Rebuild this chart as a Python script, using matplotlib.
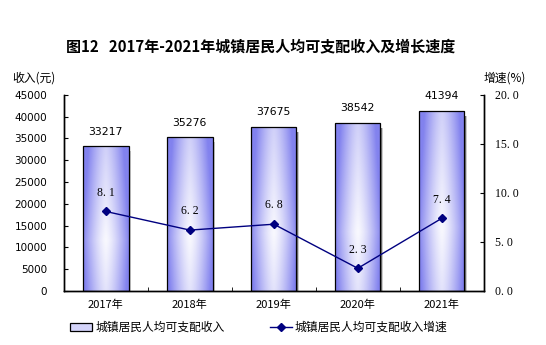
import matplotlib
matplotlib.use("Agg")
import matplotlib.pyplot as plt
import numpy as np
from matplotlib.ticker import FixedLocator, NullFormatter

plt.rcParams["font.family"] = ["Noto Sans CJK SC", "DejaVu Sans"]

years = ["2017年", "2018年", "2019年", "2020年", "2021年"]
income = [33217, 35276, 37675, 38542, 41394]
growth = [8.1, 6.2, 6.8, 2.3, 7.4]

title = "图12   2017年-2021年城镇居民人均可支配收入及增长速度"
bar_name = "城镇居民人均可支配收入"
line_name = "城镇居民人均可支配收入增速"

EDGE = np.array([130, 130, 238]) / 255.0
NAVY = "#000080"


def bar_gradient(nx=60, ny=120):
    # light in the lower middle, bluer towards the sides and the top
    xs = np.linspace(0, 1, nx)
    ys = np.linspace(0, 1, ny)
    X, Y = np.meshgrid(xs, ys)
    h = np.abs(X - 0.5) * 2
    t = 0.05 + 0.9 * h ** 1.4 + 0.5 * np.abs(Y - 0.35)
    t = np.clip(t, 0, 1)[..., None]
    return (1 - t) * np.ones(3) + t * EDGE


def dotted(v):
    return f"{v:.1f}".replace(".", ". ")


fig = plt.figure(figsize=(5.46, 3.45), dpi=100)
ax = fig.add_axes([0.117, 0.157, 0.769, 0.568])
ax2 = ax.twinx()

x = np.arange(len(years))
width = 0.54
grad = bar_gradient()

bars = ax.bar(x, income, width=width, facecolor="none", edgecolor="black",
              linewidth=0.9, zorder=3)
for xi, val, b in zip(x, income, bars):
    # soft shadow along the right edge
    for k, a in enumerate([0.9, 0.55, 0.2]):
        ax.add_patch(plt.Rectangle((xi + width / 2 + k * 0.011, 0), 0.011, val - 1200,
                                   facecolor="black", alpha=a, linewidth=0, zorder=1))
    im = ax.imshow(grad, extent=(xi - width / 2, xi + width / 2, 0, val),
                   origin="lower", aspect="auto", zorder=2, interpolation="bilinear")
    im.set_clip_path(b)
    ax.text(xi, val + 2200, str(val), ha="center", va="bottom", fontsize=7.8,
            family="DejaVu Sans")

ax.set_xlim(-0.5, len(years) - 0.5)
ax.set_ylim(0, 45000)
ax.set_yticks(np.arange(0, 45001, 5000))
ax.tick_params(axis="y", direction="in", length=3, labelsize=7.5, pad=12)
for lab in ax.get_yticklabels():
    lab.set_family("DejaVu Sans")
ax.set_xticks(x)
ax.set_xticklabels(years, fontsize=8)
ax.tick_params(axis="x", length=0, pad=6)
ax.xaxis.set_minor_locator(FixedLocator(np.arange(-0.5, len(years), 1.0)))
ax.xaxis.set_minor_formatter(NullFormatter())
ax.tick_params(axis="x", which="minor", direction="in", length=3)

ax2.plot(x, growth, color=NAVY, linewidth=1.0, marker="D", markersize=4.5, zorder=5)
for xi, g in zip(x, growth):
    ax2.text(xi, g + 1.3, dotted(g), ha="center", va="bottom",
             fontsize=8.5, family="Liberation Serif")
ax2.set_ylim(0, 20)
ax2.set_yticks(np.arange(0, 20.1, 5))
ax2.set_yticklabels([dotted(v) for v in np.arange(0, 20.1, 5)])
ax2.tick_params(axis="y", direction="in", length=3, labelsize=8.5, pad=8)
for lab in ax2.get_yticklabels():
    lab.set_family("Liberation Serif")

for a in (ax, ax2):
    a.spines["top"].set_visible(False)
    for s in ("left", "right", "bottom"):
        a.spines[s].set_linewidth(1.0)

fig.text(0.477, 0.866, title, ha="center", va="center", fontsize=10.8, fontweight="bold")
fig.text(0.022, 0.775, "收入(元)", ha="left", va="center", fontsize=8.5)
fig.text(0.885, 0.775, "增速(%)", ha="left", va="center", fontsize=8.5)

# legend
lg_y = 0.052
fig.patches.append(plt.Rectangle((0.128, lg_y - 0.012), 0.04, 0.024, transform=fig.transFigure,
                                 facecolor="#d4d4fa", edgecolor="black", linewidth=0.9))
fig.text(0.175, lg_y, bar_name, ha="left", va="center", fontsize=8.5)
fig.add_artist(plt.Line2D([0.495, 0.535], [lg_y, lg_y], transform=fig.transFigure,
                          color=NAVY, linewidth=1.0))
fig.add_artist(plt.Line2D([0.515], [lg_y], transform=fig.transFigure, color=NAVY,
                          marker="D", markersize=4, linestyle="none"))
fig.text(0.54, lg_y, line_name, ha="left", va="center", fontsize=8.5)

fig.savefig("out.png", dpi=100)
